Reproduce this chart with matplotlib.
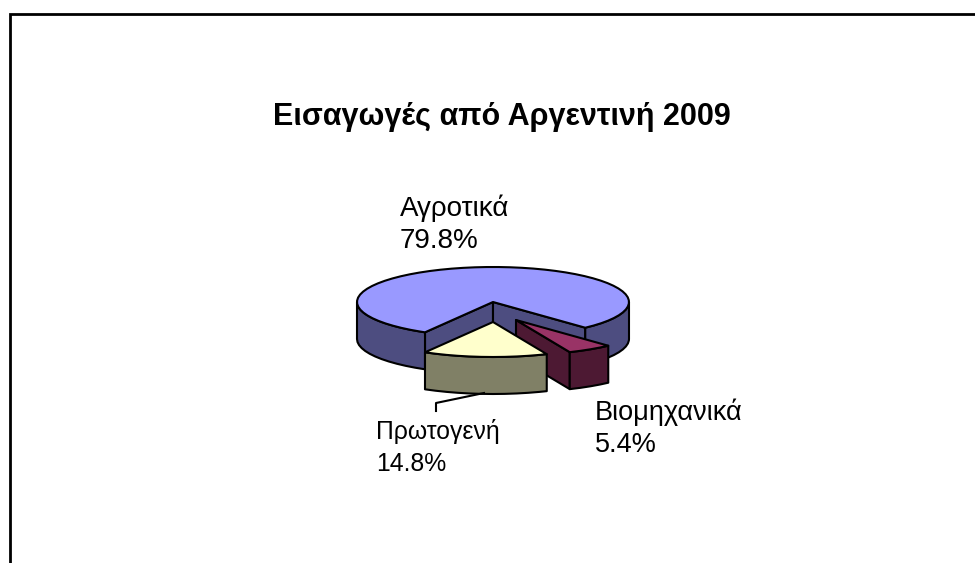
import numpy as np
import matplotlib
matplotlib.use('Agg')
import matplotlib.pyplot as plt
from matplotlib.patches import Polygon

plt.rcParams['font.family'] = ['Liberation Sans', 'DejaVu Sans']

title = 'Εισαγωγές από Αργεντινή 2009'
categories = ['Αγροτικά', 'Πρωτογενή', 'Βιομηχανικά']
shares = [79.8, 14.8, 5.4]
top_colors = ['#9999FF', '#FFFFCC', '#993366']
side_colors = ['#4D4D80', '#808066', '#4D1933']

# pie geometry in picture pixels
CX, CY = 493, 302
RX, RY = 136, 35
DEPTH = 37
START = 240.0
offsets = [(0, 0), (0, 20), (23, 18)]
label_pos = [(400, 208, 20), (376, 431, 17.8), (595, 412, 19.5)]


def rim(a0, a1, off):
    t = np.radians(np.arange(a0, a1, 5.0).tolist() + [a1])
    return np.column_stack([CX + off[0] + RX * np.cos(t),
                            CY + off[1] - RY * np.sin(t)])


def draw_poly(ax, pts, color):
    ax.add_patch(Polygon(pts, closed=True, facecolor=color, edgecolor='black',
                         linewidth=1.5, joinstyle='round'))


def draw_outer_wall(ax, a0, a1, off, color):
    if a1 <= a0:
        return
    edge = rim(a0, a1, off)
    draw_poly(ax, np.vstack([edge, edge[::-1] + [0, DEPTH]]), color)


def draw_side_wall(ax, angle, off, color):
    apex = np.array([CX + off[0], CY + off[1]])
    end = rim(angle, angle, off)[0]
    draw_poly(ax, [apex, end, end + [0, DEPTH], apex + [0, DEPTH]], color)


def draw_top(ax, a0, a1, off, color):
    apex = [CX + off[0], CY + off[1]]
    draw_poly(ax, np.vstack([[apex], rim(a0, a1, off), [apex]]), color)


fig = plt.figure(figsize=(9.75, 5.63), dpi=100)
ax = fig.add_axes([0, 0, 1, 1])
ax.set_xlim(0, 975)
ax.set_ylim(563, 0)
ax.axis('off')

# slices go counter clockwise from START: primary, industrial, then agricultural
a_prim = START + shares[1] * 3.6
a_ind = a_prim + shares[2] * 3.6
a_agr = a_ind + shares[0] * 3.6

# chart frame runs off the right and bottom of the picture
ax.plot([975, 9.5, 9.5], [14, 14, 563], color='black', lw=2, solid_joinstyle='miter')

# main slice, cut faces first
draw_side_wall(ax, START, offsets[0], side_colors[0])
draw_side_wall(ax, a_ind, offsets[0], side_colors[0])
draw_outer_wall(ax, 180, START, offsets[0], side_colors[0])
draw_outer_wall(ax, a_ind, 360, offsets[0], side_colors[0])
draw_top(ax, a_ind, a_agr, offsets[0], top_colors[0])

# industrial
draw_side_wall(ax, a_prim, offsets[2], side_colors[2])
draw_outer_wall(ax, a_prim, a_ind, offsets[2], side_colors[2])
draw_top(ax, a_prim, a_ind, offsets[2], top_colors[2])

# primary
draw_outer_wall(ax, START, a_prim, offsets[1], side_colors[1])
draw_top(ax, START, a_prim, offsets[1], top_colors[1])

# leader line for primary label
ax.plot([484, 436, 436], [393, 403, 411], color='black', lw=1.5)

ax.text(502, 117, title, ha='center', va='center', fontsize=22, fontweight='bold')
for name, val, (x, y, fs) in zip(categories, shares, label_pos):
    ax.text(x, y, name, ha='left', va='center', fontsize=fs)
    ax.text(x, y + 33, f'{val:.1f}%', ha='left', va='center', fontsize=fs)

fig.savefig('out.png', dpi=100)
